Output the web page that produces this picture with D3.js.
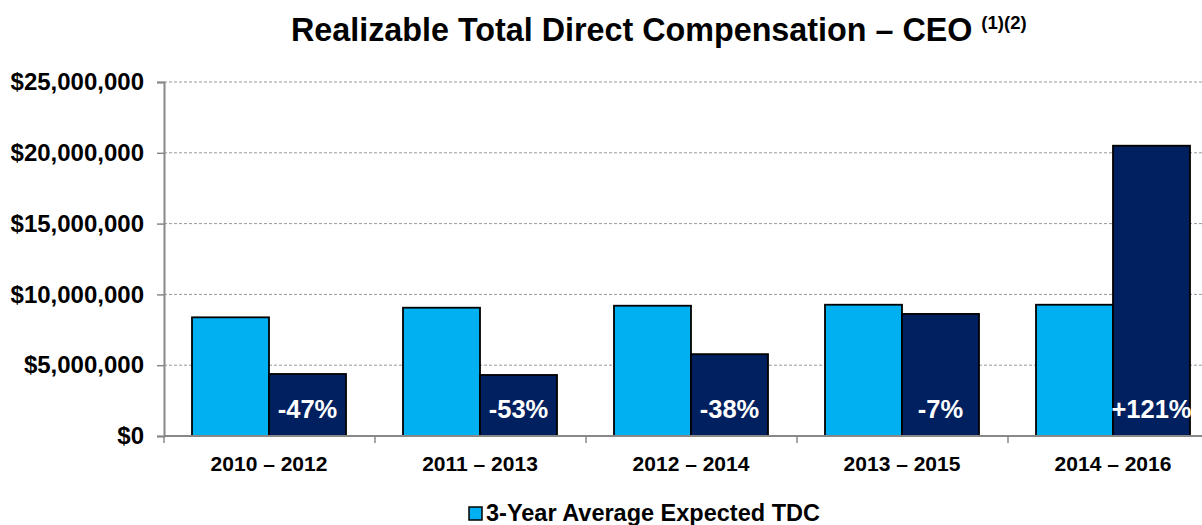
<!DOCTYPE html>
<html>
<head>
<meta charset="utf-8">
<script src="https://cdn.jsdelivr.net/npm/d3@7/dist/d3.min.js"></script>
<style>
  html, body { margin: 0; padding: 0; background: #fff; }
  svg { display: block; font-family: Arial, "Liberation Sans", sans-serif; }
</style>
</head>
<body>
<svg id="chart" width="1202" height="525"></svg>
<script>
const categories = ["2010 \u2013 2012", "2011 \u2013 2013", "2012 \u2013 2014", "2013 \u2013 2015", "2014 \u2013 2016"];
const seriesNames = ["3-Year Average Expected TDC", "3-Year Realizable TDC"];
const expectedTDC = [8380000, 9060000, 9200000, 9270000, 9270000];
const realizableTDC = [4380000, 4310000, 5780000, 8620000, 20500000];
const changeLabels = ["-47%", "-53%", "-38%", "-7%", "+121%"];
const yTicks = [0, 5000000, 10000000, 15000000, 20000000, 25000000];
const colors = ["#00B0F0", "#002060"];

(function () {
const svg = d3.select("#chart");
const pLeft = 164, pRight = 1219, pTop = 82, pBottom = 436;

const x = d3.scaleBand().domain(categories).range([pLeft, pRight]).padding(0);
const xInner = d3.scaleBand().domain(seriesNames).range([28, 182]).padding(0);
const y = d3.scaleLinear().domain([0, 25000000]).range([pBottom, pTop]);

// Title
const title = svg.append("text").attr("x", 291).attr("y", 41)
  .attr("font-size", 32.3).attr("font-weight", "bold").attr("fill", "#000");
title.append("tspan").text("Realizable Total Direct Compensation \u2013 CEO ");
title.append("tspan").attr("font-size", 18.5).attr("dy", -12).text("(1)(2)");

// Gridlines
svg.append("g").selectAll("line").data(yTicks.filter(d => d > 0)).join("line")
  .attr("x1", pLeft).attr("x2", 1202)
  .attr("y1", d => y(d)).attr("y2", d => y(d))
  .attr("stroke", "#999").attr("stroke-width", 1).attr("stroke-dasharray", "3,2");

// Y axis
const yAxis = d3.axisLeft(y).tickValues(yTicks).tickSize(7).tickPadding(13)
  .tickFormat(d => "$" + d3.format(",")(d));
const gy = svg.append("g").attr("transform", `translate(${pLeft},0)`).call(yAxis);
gy.select(".domain").attr("stroke", "#888").attr("stroke-width", 2);
gy.selectAll(".tick line").attr("stroke", "#888").attr("stroke-width", 1.5);
gy.selectAll(".tick text").attr("font-size", 24).attr("font-weight", "bold")
  .attr("fill", "#000").attr("font-family", "Arial, 'Liberation Sans', sans-serif");

// Bars
const groups = svg.append("g").selectAll("g").data(categories).join("g")
  .attr("transform", d => `translate(${x(d)},0)`);
groups.selectAll("rect").data((d, i) => [
    {s: seriesNames[0], v: expectedTDC[i], c: colors[0]},
    {s: seriesNames[1], v: realizableTDC[i], c: colors[1]}
  ]).join("rect")
  .attr("x", d => xInner(d.s)).attr("width", xInner.bandwidth())
  .attr("y", d => y(d.v)).attr("height", d => y(0) - y(d.v))
  .attr("fill", d => d.c).attr("stroke", "#000").attr("stroke-width", 1.8);

// Change labels
groups.append("text")
  .attr("x", xInner(seriesNames[1]) + xInner.bandwidth() / 2)
  .attr("y", 418).attr("text-anchor", "middle")
  .attr("font-size", 25.5).attr("font-weight", "bold").attr("fill", "#fff")
  .text((d, i) => changeLabels[i]);

// X axis
const xAxisLine = svg.append("g");
xAxisLine.append("line").attr("x1", pLeft).attr("x2", 1202).attr("y1", pBottom).attr("y2", pBottom)
  .attr("stroke", "#888").attr("stroke-width", 2);
xAxisLine.selectAll("line.tk").data(categories).join("line").attr("class", "tk")
  .attr("x1", d => x(d)).attr("x2", d => x(d)).attr("y1", pBottom).attr("y2", pBottom + 7)
  .attr("stroke", "#888").attr("stroke-width", 1.5);
svg.append("g").selectAll("text").data(categories).join("text")
  .attr("x", d => x(d) + 28 + xInner.bandwidth()).attr("y", 471)
  .attr("text-anchor", "middle").attr("font-size", 21).attr("font-weight", "bold")
  .attr("fill", "#000").text(d => d);

// Legend
const lg = svg.append("g");
lg.append("rect").attr("x", 469).attr("y", 507).attr("width", 13).attr("height", 13)
  .attr("fill", colors[0]).attr("stroke", "#000").attr("stroke-width", 1.5);
lg.append("text").attr("x", 486).attr("y", 521).attr("font-size", 23.5).attr("font-weight", "bold")
  .attr("fill", "#000").text(seriesNames[0]);
})();
</script>
</body>
</html>
